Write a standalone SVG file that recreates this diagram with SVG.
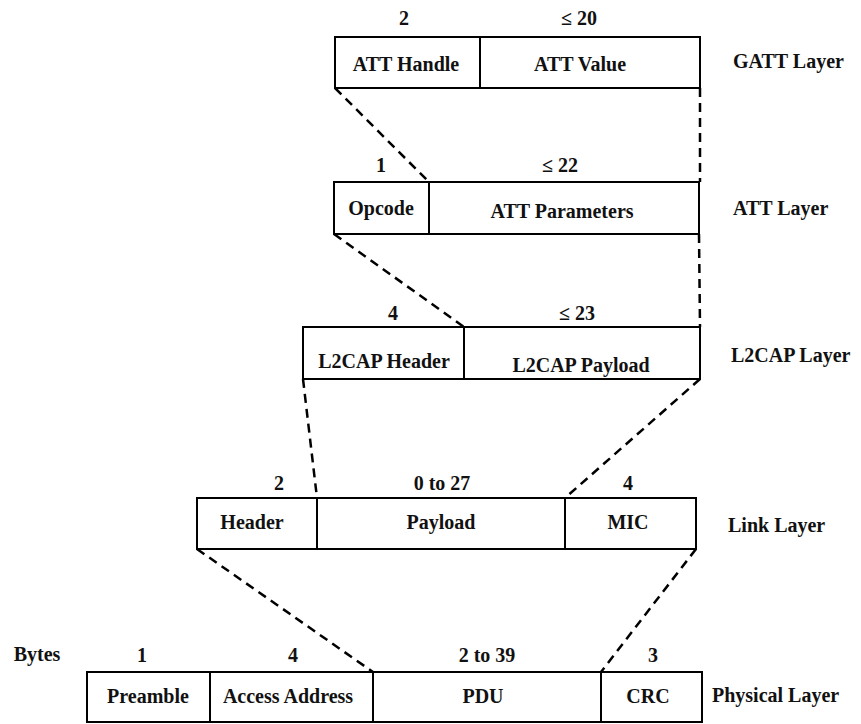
<svg xmlns="http://www.w3.org/2000/svg" width="861" height="724" viewBox="0 0 861 724" font-family="'Liberation Serif', 'DejaVu Serif', serif">
<style>
text{font-family:'Liberation Serif','DejaVu Serif',serif;font-weight:bold;font-size:20px;fill:#111;text-anchor:middle}
.lbl{text-anchor:start}
.box{fill:#fff;stroke:#000;stroke-width:2}
.div{stroke:#000;stroke-width:2}
.dash{stroke:#000;stroke-width:2.5;stroke-dasharray:9,6;fill:none}
</style>
<rect width="861" height="724" fill="#fff"/>
<g id="connectors">
<line class="dash" x1="335" y1="88" x2="429" y2="182"/>
<line class="dash" x1="700" y1="88" x2="700" y2="182"/>
<line class="dash" x1="334" y1="234" x2="464" y2="327"/>
<line class="dash" x1="699" y1="234" x2="700" y2="327"/>
<line class="dash" x1="303" y1="379" x2="317" y2="498"/>
<line class="dash" x1="700" y1="379" x2="565" y2="498"/>
<line class="dash" x1="197" y1="549" x2="373" y2="672"/>
<line class="dash" x1="696" y1="549" x2="601" y2="672"/>
</g>
<g id="gatt">
<rect class="box" x="335" y="37" width="365" height="51"/>
<line class="div" x1="480" y1="37" x2="480" y2="88"/>
<text x="404" y="25">2</text>
<text x="579" y="25">≤ 20</text>
<text x="406" y="71">ATT Handle</text>
<text x="580" y="71">ATT Value</text>
<text class="lbl" x="733" y="68">GATT Layer</text>
</g>
<g id="att">
<rect class="box" x="334" y="182" width="365" height="52"/>
<line class="div" x1="429" y1="182" x2="429" y2="234"/>
<text x="381" y="172">1</text>
<text x="560" y="172">≤ 22</text>
<text x="381" y="215">Opcode</text>
<text x="562" y="218">ATT Parameters</text>
<text class="lbl" x="733" y="215">ATT Layer</text>
</g>
<g id="l2cap">
<rect class="box" x="303" y="327" width="397" height="52"/>
<line class="div" x1="464" y1="327" x2="464" y2="379"/>
<text x="393" y="320">4</text>
<text x="577" y="320">≤ 23</text>
<text x="384" y="368">L2CAP Header</text>
<text x="581" y="372">L2CAP Payload</text>
<text class="lbl" x="731" y="362">L2CAP Layer</text>
</g>
<g id="link">
<rect class="box" x="197" y="498" width="499" height="51"/>
<line class="div" x1="317" y1="498" x2="317" y2="549"/>
<line class="div" x1="565" y1="498" x2="565" y2="549"/>
<text x="279" y="490">2</text>
<text x="442" y="490">0 to 27</text>
<text x="628" y="490">4</text>
<text x="252" y="529">Header</text>
<text x="441" y="529">Payload</text>
<text x="628" y="529">MIC</text>
<text class="lbl" x="728" y="532">Link Layer</text>
</g>
<g id="physical">
<rect class="box" x="87" y="672" width="615" height="50"/>
<line class="div" x1="210" y1="672" x2="210" y2="722"/>
<line class="div" x1="373" y1="672" x2="373" y2="722"/>
<line class="div" x1="601" y1="672" x2="601" y2="722"/>
<text x="37" y="661">Bytes</text>
<text x="142" y="662">1</text>
<text x="293" y="662">4</text>
<text x="487" y="662">2 to 39</text>
<text x="653" y="662">3</text>
<text x="148" y="703">Preamble</text>
<text x="288" y="703">Access Address</text>
<text x="483" y="703">PDU</text>
<text x="648" y="703">CRC</text>
<text class="lbl" x="712" y="702">Physical Layer</text>
</g>
</svg>
